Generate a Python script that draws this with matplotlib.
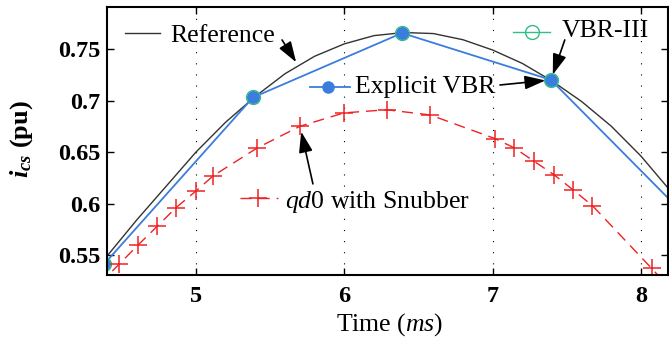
import matplotlib
matplotlib.use("Agg")
import matplotlib.pyplot as plt

plt.rcParams['font.family'] = ['Liberation Serif', 'DejaVu Serif']
plt.rcParams['mathtext.fontset'] = 'custom'
plt.rcParams['mathtext.rm'] = 'Liberation Serif'
plt.rcParams['mathtext.it'] = 'Liberation Serif:italic'
plt.rcParams['mathtext.bf'] = 'Liberation Serif:bold'
plt.rcParams['mathtext.bfit'] = 'Liberation Serif:italic:bold'

# reference current
ref_t = [4.40, 4.60, 4.80, 5.00, 5.20, 5.40, 5.60, 5.80, 6.00, 6.20, 6.40,
         6.60, 6.80, 7.00, 7.20, 7.40, 7.60, 7.80, 8.00, 8.20]
ref_i = [0.549, 0.584, 0.617, 0.650, 0.679, 0.704, 0.726, 0.743, 0.755, 0.763, 0.766,
         0.765, 0.759, 0.749, 0.736, 0.719, 0.699, 0.675, 0.646, 0.612]

# explicit VBR / VBR-III (same sample instants)
vbr_t = [4.379, 5.384, 6.389, 7.393, 8.398]
vbr_i = [0.541, 0.703, 0.7655, 0.720, 0.574]

# qd0 model with snubber
qd_t = [4.35, 4.481, 4.611, 4.739, 4.865, 4.998, 5.117, 5.413, 5.701, 5.998, 6.286,
        6.578, 7.016, 7.146, 7.279, 7.413, 7.544, 7.672, 8.072, 8.20]
qd_i = [0.522, 0.541, 0.560, 0.578, 0.596, 0.612, 0.627, 0.654, 0.675, 0.688, 0.691,
        0.686, 0.663, 0.654, 0.641, 0.628, 0.613, 0.598, 0.537, 0.517]

xticks = [5, 6, 7, 8]
yticks = [0.55, 0.6, 0.65, 0.7, 0.75]
ytick_labels = ['0.55', '0.6', '0.65', '0.7', '0.75']

c_ref = '#333333'
c_blue = '#3b7ddd'
c_green = '#2fbf86'
c_red = '#ee2222'

fig = plt.figure(figsize=(6.69, 3.39), dpi=100)
ax = fig.add_axes([0.160, 0.1888, 0.8385, 0.7906])

ax.plot(ref_t, ref_i, color=c_ref, lw=1.0)
ax.plot(vbr_t, vbr_i, color=c_blue, lw=1.3, marker='o', ms=8, mfc=c_blue, mec=c_blue)
ax.plot(vbr_t, vbr_i, color=c_green, lw=0, marker='o', ms=10, mfc='none', mew=1.0)
ax.plot(vbr_t, vbr_i, color=c_blue, lw=0, marker='o', ms=8, mfc=c_blue, mec=c_blue)
ax.plot(qd_t, qd_i, color=c_red, lw=1.0, dashes=(8, 5), marker='+', ms=13, mew=1.1)

ax.set_xlim(4.40, 8.182)
ax.set_ylim(0.5306, 0.7908)
ax.set_xticks(xticks)
ax.set_xticklabels([str(v) for v in xticks], fontweight='bold', fontsize=17.5)
ax.set_yticks(yticks)
ax.set_yticklabels(ytick_labels, fontweight='bold', fontsize=17.5)
ax.tick_params(direction='in', length=5, width=1, top=True, right=True)
ax.tick_params(axis='x', pad=8)
ax.tick_params(axis='y', pad=5)
ax.xaxis.grid(True, linestyle=(0, (1, 9)), color='black', lw=0.8)
for s in ax.spines.values():
    s.set_linewidth(1.5)

ax.set_xlabel(r'Time ($\mathit{ms}$)', fontsize=18.5)
ax.xaxis.set_label_coords(0.503, -0.135)
ax.set_ylabel(r'$\mathbfit{i}_{\mathbfit{cs}}$ (pu)', fontsize=19, fontweight='bold')
ax.yaxis.set_label_coords(-0.128, 0.507)

# in-plot labels with sample lines
tr = ax.transAxes
fs = 18.5
arrow = dict(arrowstyle='-|>,head_length=0.9,head_width=0.3', color='black', lw=1.2,
             shrinkA=0, shrinkB=4, mutation_scale=14)

ax.plot([0.032, 0.094], [0.903, 0.903], color=c_ref, lw=1.0, transform=tr)
ax.text(0.112, 0.869, 'Reference', fontsize=fs, transform=tr, va='baseline')
ax.annotate('', xy=(5.68, 0.736), xytext=(0.312, 0.877), textcoords='axes fraction',
            arrowprops=dict(arrow, shrinkB=1))

ax.plot([0.362, 0.433], [0.701, 0.701], color=c_blue, lw=1.3, transform=tr)
ax.plot([0.394], [0.701], color=c_blue, marker='o', ms=8, transform=tr)
ax.text(0.442, 0.679, 'Explicit VBR', fontsize=fs, transform=tr, va='baseline')
ax.annotate('', xy=(vbr_t[3], vbr_i[3]), xytext=(0.7005, 0.709), textcoords='axes fraction',
            arrowprops=arrow)

ax.plot([0.724, 0.790], [0.907, 0.907], color=c_green, lw=1.0, transform=tr)
ax.plot([0.758], [0.907], color=c_green, marker='o', ms=10, mfc='none', mew=1.0, transform=tr)
ax.text(0.811, 0.888, 'VBR-III', fontsize=fs, transform=tr, va='baseline')
ax.annotate('', xy=(vbr_t[3], vbr_i[3]), xytext=(0.816, 0.877), textcoords='axes fraction',
            arrowprops=arrow)

ax.plot([0.237, 0.305], [0.287, 0.287], color=c_red, lw=1.0, dashes=(8, 5), transform=tr)
ax.plot([0.269], [0.287], color=c_red, marker='+', ms=13, mew=1.1, transform=tr)
ax.text(0.317, 0.25, r'$\mathit{qd}$0 with Snubber', fontsize=fs, transform=tr, va='baseline')
ax.annotate('', xy=(qd_t[8], qd_i[8]), xytext=(0.367, 0.340), textcoords='axes fraction',
            arrowprops=arrow)

fig.savefig('out.png', dpi=100)
